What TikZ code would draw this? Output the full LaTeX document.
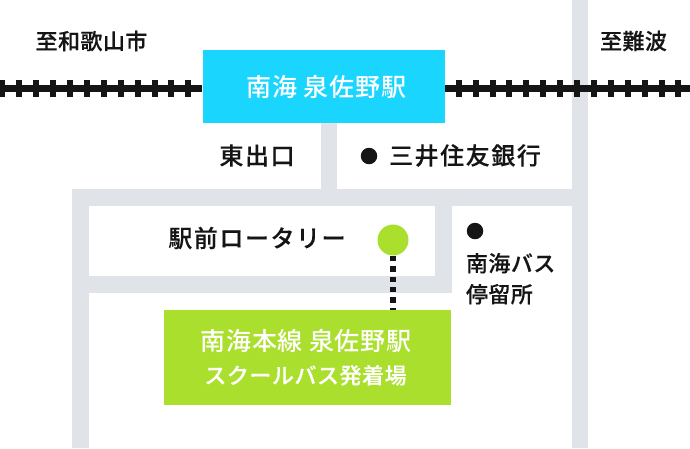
\documentclass[tikz,border=0pt]{standalone}
\usepackage{fontspec}
\setmainfont{Noto Sans CJK JP Medium}
\definecolor{roadgray}{HTML}{E0E3E8}
\definecolor{stationcyan}{HTML}{1AD6FF}
\definecolor{busgreen}{HTML}{ABDF2E}
\definecolor{inkblack}{HTML}{151515}
\newcommand{\tracked}[1]{\addfontfeature{LetterSpace=#1}}
\newcommand{\heavy}{\addfontfeature{FakeBold=0.25}}
\tikzset{
  road/.style={fill=roadgray,draw=none},
  railline/.style={draw=inkblack,line width=6.6pt},
  railtie/.style={draw=inkblack,line width=6pt},
  label/.style={inner sep=0pt,outer sep=0pt,text=inkblack,font=\fontsize{22}{31}\selectfont\tracked{2}\heavy,align=left},
  biglabel/.style={label,font=\fontsize{24}{32}\selectfont\tracked{6.5}\heavy},
  blackdot/.style={circle,fill=inkblack,inner sep=0pt,minimum size=16.5pt},
  stationbox/.style={fill=stationcyan,inner sep=0pt,minimum width=242.5pt,minimum height=73pt,text=white,font=\fontsize{25}{32}\selectfont\tracked{3.5}},
  busbox/.style={fill=busgreen,inner sep=0pt,minimum width=287pt,minimum height=95pt,text=white,align=center,font=\fontsize{22}{33}\selectfont},
  pickup/.style={circle,fill=busgreen,inner sep=0pt,minimum size=31pt},
  walkline/.style={draw=inkblack,line width=6pt,dash pattern=on 5.5pt off 4.9pt}
}
\begin{document}
\begin{tikzpicture}[x=1pt,y=-1pt]
\useasboundingbox (0,0) rectangle (690,448);
% roads
\fill[road] (572,0) rectangle (588,448);
\fill[road] (72,189) rectangle (588,205.5);
\fill[road] (72,189) rectangle (89,448);
\fill[road] (321,123) rectangle (337,189);
\fill[road] (89,276) rectangle (452,293);
\fill[road] (435,205) rectangle (452,293);
% station and track
\node[stationbox] (station) at (323.75,86.5) {\hspace*{5pt}南海 泉佐野駅};
\coordinate (trackW) at (0,88.5);
\coordinate (trackE) at (690,88.5);
\draw[railline] (trackW) -- (station.west |- trackW);
\draw[railline] (station.east |- trackE) -- (trackE);
\foreach \tx in {2.3,19.3,36.2,53.1,70,86.9,103.8,120.7,137.6,154.5,171.4,188.3}
  \draw[railtie] (\tx,80) -- (\tx,97);
\foreach \tx in {458.7,475.6,492.5,509.4,526.3,543.2,560.1,577,593.9,610.8,627.7,644.6,661.5,678.4}
  \draw[railtie] (\tx,80) -- (\tx,97);
% bus stop
\node[busbox] (bus) at (307.5,357.5) {\hspace*{-3pt}{\fontsize{25}{33}\selectfont\tracked{3}南海本線 泉佐野駅}\\{\hspace*{-4pt}\tracked{2.5}\heavy スクールバス発着場}};
\node[pickup] (pickup) at (393,240) {};
\draw[walkline] (pickup.south) -- (pickup.south |- bus.north);
% labels
\node[label] (wakayama) at (91.5,41) {至和歌山市};
\node[label] (namba) at (633.5,41) {至難波};
\node[biglabel] (east) at (257,155.5) {東出口};
\node[blackdot] (bankdot) at (369,156) {};
\node[biglabel] (bank) at (465,155.5) {三井住友銀行};
\node[biglabel] (rotary) at (257,238) {駅前ロータリー};
\node[blackdot] (busdot) at (475,231) {};
\node[label,anchor=north west] (busstop) at (466,253) {南海バス\\停留所};
\end{tikzpicture}
\end{document}
